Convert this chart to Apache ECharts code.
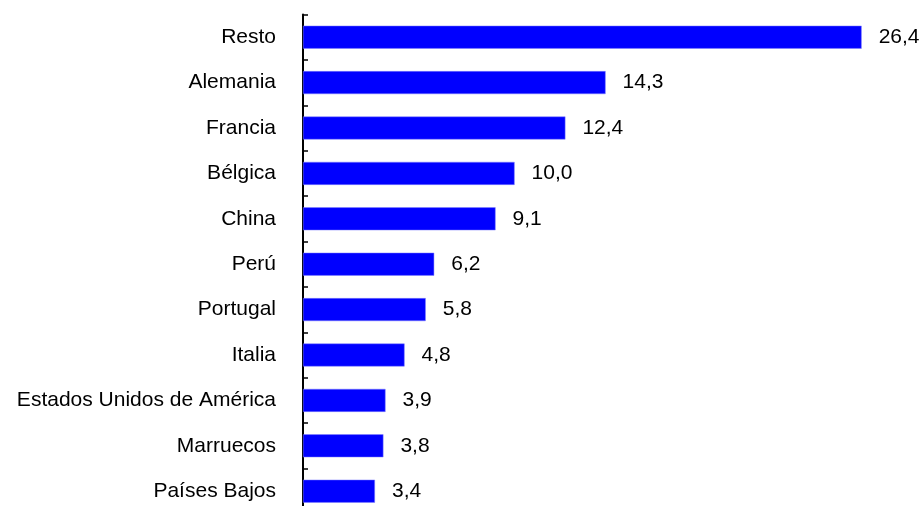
<!DOCTYPE html>
<html>
<head>
<meta charset="utf-8">
<style>
  html, body { margin: 0; padding: 0; background: #fff; }
  #chart { width: 924px; height: 506px; }
</style>
<script src="https://cdn.jsdelivr.net/npm/echarts@6/dist/echarts.min.js"></script>
</head>
<body>
<div id="chart"></div>
<script>
// paises, de arriba a abajo
var paises = ["Resto", "Alemania", "Francia", "Bélgica", "China", "Perú", "Portugal",
  "Italia", "Estados Unidos de América", "Marruecos", "Países Bajos"];
// porcentaje
var valores = [26.4, 14.3, 12.4, 10.0, 9.1, 6.2, 5.8, 4.8, 3.9, 3.8, 3.4];

var myChart = echarts.init(document.getElementById("chart"));
var option = {
  animation: false,
  grid: {
    left: 303,
    top: 14.5,
    width: 592.5,
    height: 499.4,
    outerBoundsMode: "none"
  },
  xAxis: {
    type: "value",
    min: 0,
    max: 28,
    show: false
  },
  yAxis: {
    type: "category",
    inverse: true,
    data: paises,
    axisLine: { show: true, lineStyle: { color: "#000", width: 2 } },
    axisTick: { show: true, inside: true, length: 5, lineStyle: { color: "#000", width: 1.5 } },
    axisLabel: {
      margin: 27,
      color: "#000",
      fontSize: 21,
      fontFamily: "Liberation Sans, Arial, sans-serif"
    }
  },
  series: [
    {
      type: "bar",
      data: valores,
      barWidth: 23,
      itemStyle: {
        color: "#0000ff",
        borderColor: "#8080ff",
        borderWidth: 0.5
      },
      label: {
        show: true,
        position: "right",
        distance: 17,
        color: "#000",
        fontSize: 21,
        fontFamily: "Liberation Sans, Arial, sans-serif",
        formatter: function (p) {
          return p.value.toFixed(1).replace(".", ",");
        }
      }
    }
  ]
};
myChart.setOption(option);
</script>
</body>
</html>
